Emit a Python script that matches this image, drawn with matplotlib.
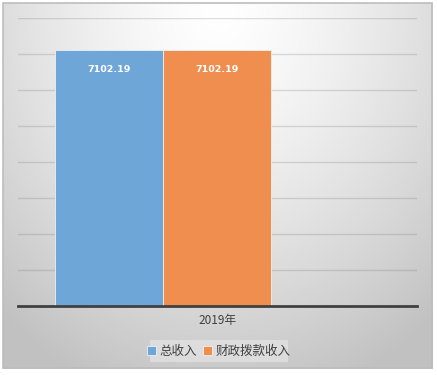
import numpy as np
import matplotlib.pyplot as plt
from matplotlib.patches import Rectangle

plt.rcParams['font.family'] = ['Noto Sans CJK SC', 'DejaVu Sans']

# dados
categorias = ['2019年']
series = ['总收入', '财政拨款收入']
valores = [7102.19, 7102.19]
cores = ['#6fa6d8', '#ef8e4f']

W, H = 437, 375
fig = plt.figure(figsize=(W / 100, H / 100), dpi=100)

# fundo com gradiente radial (so dentro da borda)
bg = fig.add_axes([0, 0, 1, 1])
yy, xx = np.mgrid[0:H, 0:W]
r = np.sqrt(((xx - 218) / 330.0) ** 2 + ((yy - 10) / 400.0) ** 2)
r = np.clip(r, 0, 1)
g = 1.0 - 0.24 * r ** 1.4
fora = (xx < 3) | (xx > 432) | (yy < 3) | (yy > 368)
g[fora] = 1.0
img = np.dstack([g, g, g])
bg.imshow(img, extent=[0, W, H, 0], aspect='auto')
bg.set_xlim(0, W)
bg.set_ylim(H, 0)
bg.axis('off')
bg.add_patch(Rectangle((3, 3), 429, 365, fill=False, ec='#bdbdbd', lw=1.2))
bg.add_patch(Rectangle((150, 340), 138, 22, fc='#e4e4e4', ec='none', alpha=0.7))

# area do grafico
ax = fig.add_axes([18 / W, 1 - 306 / H, 399 / W, 288 / H])
ax.patch.set_alpha(0)
ax.set_xlim(0, 1)
ax.set_ylim(0, 8000)
for v in range(1000, 9000, 1000):
    ax.axhline(v, color='#6a6a6a', alpha=0.22, lw=1, zorder=0)

larg = 108 / 399
x0 = 37 / 399
for i, (s, v, c) in enumerate(zip(series, valores, cores)):
    xb = x0 + i * larg
    ax.bar(xb, v, width=larg, align='edge', color=c, ec='#f0f0f0', lw=0.6,
           label=s, zorder=2)
    ax.text(xb + larg / 2, v - 520, f'{v:.2f}', ha='center', va='center',
            color='white', fontsize=6.8, fontweight='bold',
            family='DejaVu Sans', zorder=3)

for sp in ['top', 'right', 'left']:
    ax.spines[sp].set_visible(False)
ax.spines['bottom'].set_color('#404040')
ax.spines['bottom'].set_linewidth(2)
ax.set_yticks([])
ax.set_xticks([0.5])
ax.set_xticklabels(categorias, fontsize=8.5, color='#404040')
ax.tick_params(axis='x', length=0, pad=6)

leg = ax.legend(loc='center', bbox_to_anchor=(219 / W, 1 - 351 / H),
                bbox_transform=fig.transFigure, ncol=2, frameon=False,
                fontsize=9, handlelength=0.7, handleheight=0.7,
                handletextpad=0.3, columnspacing=0.5)
for t in leg.get_texts():
    t.set_color('#404040')

fig.savefig('out.png', dpi=100)
